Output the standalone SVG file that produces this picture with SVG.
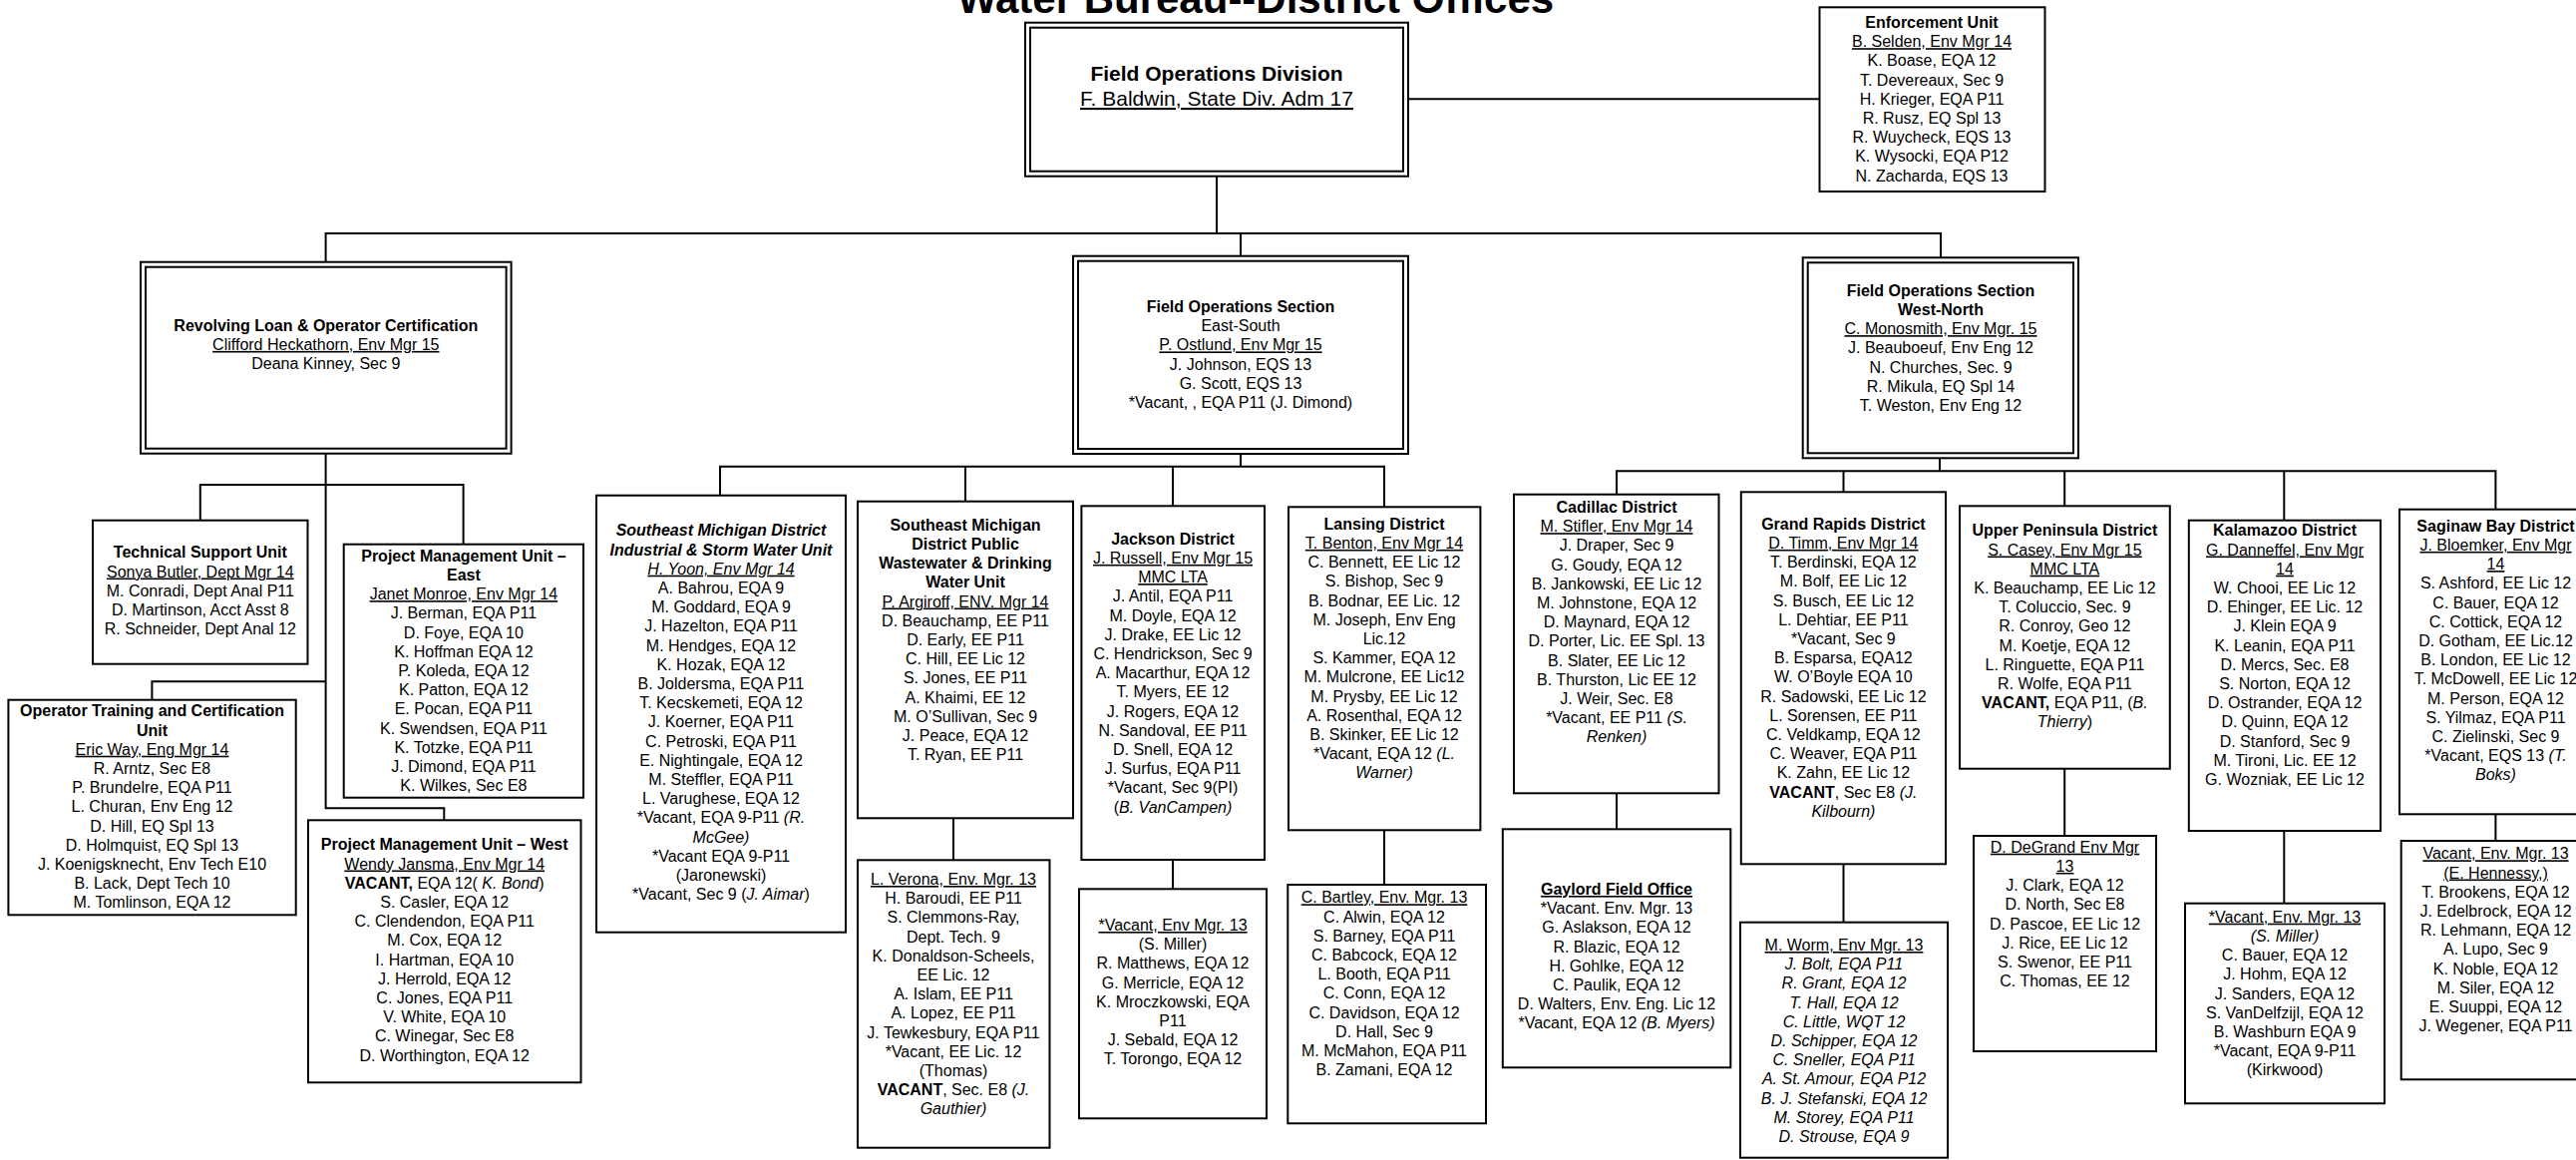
<svg xmlns="http://www.w3.org/2000/svg" width="2583" height="1163" viewBox="0 0 2583 1163">
<style>
.t{font-family:"Liberation Sans",Arial,sans-serif;font-size:16px;text-anchor:middle;fill:#000}
.b{font-weight:bold}
.i{font-style:italic}
.u{text-decoration:underline}
.box{fill:#fff;stroke:#000;stroke-width:2}
.con{fill:none;stroke:#000;stroke-width:2}
</style>
<rect x="0" y="0" width="2583" height="1163" fill="#fff"/>
<text class="t b" x="1259" y="13" style="font-size:42px">Water Bureau--District Offices</text>

<g id="connectors">
<path class="con" d="M1412 99.3H1825"/>
<path class="con" d="M1220 177V234"/>
<path class="con" d="M326.6 263V234H1946V258"/>
<path class="con" d="M1244 234V257"/>
<path class="con" d="M326.6 455V810.3H445.3V822.3"/>
<path class="con" d="M200.8 521.7V486H464.6V545.7"/>
<path class="con" d="M326.6 683.3H152.4V701.7"/>
<path class="con" d="M1244 455V467.7"/>
<path class="con" d="M722 496.7V467.7H1388V508.3"/>
<path class="con" d="M968 467.7V502.7"/>
<path class="con" d="M1176 467.7V507.3"/>
<path class="con" d="M956 801V862.3"/>
<path class="con" d="M1176 862V891.3"/>
<path class="con" d="M1388 832.3V887"/>
<path class="con" d="M1945 459.3V472.3"/>
<path class="con" d="M1621 495.7V472.3H2502.4V510.7"/>
<path class="con" d="M1848.5 472.3V493.3"/>
<path class="con" d="M2070.2 472.3V507.3"/>
<path class="con" d="M2290.3 472.3V521.7"/>
<path class="con" d="M1621 795.3V831.3"/>
<path class="con" d="M1848.5 866.3V924.7"/>
<path class="con" d="M2070.2 770.7V838"/>
<path class="con" d="M2290.3 833V905.7"/>
<path class="con" d="M2502.4 816.3V843"/>
</g>

<g id="fod">
<rect class="box" x="1028" y="22.7" width="384" height="154"/>
<rect class="box" x="1033" y="27.7" width="374" height="144"/>
<text class="t b" x="1220" y="81" style="font-size:21px">Field Operations Division</text>
<text class="t u" x="1220" y="106" style="font-size:21px">F. Baldwin, State Div. Adm 17</text>
</g>

<g id="enforcement">
<rect class="box" x="1824.5" y="7.3" width="226" height="184.7"/>
<text class="t" y="28"><tspan x="1937" class="b">Enforcement Unit</tspan><tspan x="1937" dy="19.2" class="u">B. Selden, Env Mgr 14</tspan><tspan x="1937" dy="19.2">K. Boase, EQA 12</tspan><tspan x="1937" dy="19.2">T. Devereaux, Sec 9</tspan><tspan x="1937" dy="19.2">H. Krieger, EQA P11</tspan><tspan x="1937" dy="19.2">R. Rusz, EQ Spl 13</tspan><tspan x="1937" dy="19.2">R. Wuycheck, EQS 13</tspan><tspan x="1937" dy="19.2">K. Wysocki, EQA P12</tspan><tspan x="1937" dy="19.2">N. Zacharda, EQS 13</tspan></text>
</g>

<g id="rloc">
<rect class="box" x="141" y="262.7" width="371.6" height="192"/>
<rect class="box" x="146" y="267.7" width="361.6" height="182"/>
<text class="t" y="331.7"><tspan x="326.8" class="b">Revolving Loan &amp; Operator Certification</tspan><tspan x="326.8" dy="19.2" class="u">Clifford Heckathorn, Env Mgr 15</tspan><tspan x="326.8" dy="19.2">Deana Kinney, Sec 9</tspan></text>
</g>

<g id="fos-es">
<rect class="box" x="1076" y="256.7" width="336" height="198.3"/>
<rect class="box" x="1081" y="261.7" width="326" height="188.3"/>
<text class="t" y="313"><tspan x="1244" class="b">Field Operations Section</tspan><tspan x="1244" dy="19.2">East-South</tspan><tspan x="1244" dy="19.2" class="u">P. Ostlund, Env Mgr 15</tspan><tspan x="1244" dy="19.2">J. Johnson, EQS 13</tspan><tspan x="1244" dy="19.2">G. Scott, EQS 13</tspan><tspan x="1244" dy="19.2">*Vacant, , EQA P11 (J. Dimond)</tspan></text>
</g>

<g id="fos-wn">
<rect class="box" x="1807.7" y="258.3" width="276.3" height="201"/>
<rect class="box" x="1812.7" y="263.3" width="266.3" height="191"/>
<text class="t" y="296.7"><tspan x="1946" class="b">Field Operations Section</tspan><tspan x="1946" dy="19.2" class="b">West-North</tspan><tspan x="1946" dy="19.2" class="u">C. Monosmith, Env Mgr. 15</tspan><tspan x="1946" dy="19.2">J. Beauboeuf, Env Eng 12</tspan><tspan x="1946" dy="19.2">N. Churches, Sec. 9</tspan><tspan x="1946" dy="19.2">R. Mikula, EQ Spl 14</tspan><tspan x="1946" dy="19.2">T. Weston, Env Eng 12</tspan></text>
</g>

<g id="tech-support">
<rect class="box" x="93" y="521.7" width="215.5" height="144"/>
<text class="t" y="559.3"><tspan x="200.8" class="b">Technical Support Unit</tspan><tspan x="200.8" dy="19.2" class="u">Sonya Butler, Dept Mgr 14</tspan><tspan x="200.8" dy="19.2">M. Conradi, Dept Anal P11</tspan><tspan x="200.8" dy="19.2">D. Martinson, Acct Asst 8</tspan><tspan x="200.8" dy="19.2">R. Schneider, Dept Anal 12</tspan></text>
</g>

<g id="pm-east">
<rect class="box" x="344.7" y="545.7" width="240.3" height="254"/>
<text class="t" y="562.7"><tspan x="464.9" class="b">Project Management Unit –</tspan><tspan x="464.9" dy="19.2" class="b">East</tspan><tspan x="464.9" dy="19.2" class="u">Janet Monroe, Env Mgr 14</tspan><tspan x="464.9" dy="19.2">J. Berman, EQA P11</tspan><tspan x="464.9" dy="19.2">D. Foye, EQA 10</tspan><tspan x="464.9" dy="19.2">K. Hoffman EQA 12</tspan><tspan x="464.9" dy="19.2">P. Koleda, EQA 12</tspan><tspan x="464.9" dy="19.2">K. Patton, EQA 12</tspan><tspan x="464.9" dy="19.2">E. Pocan, EQA P11</tspan><tspan x="464.9" dy="19.2">K. Swendsen, EQA P11</tspan><tspan x="464.9" dy="19.2">K. Totzke, EQA P11</tspan><tspan x="464.9" dy="19.2">J. Dimond, EQA P11</tspan><tspan x="464.9" dy="19.2">K. Wilkes, Sec E8</tspan></text>
</g>

<g id="op-training">
<rect class="box" x="8.4" y="701.7" width="288.3" height="215.6"/>
<text class="t" y="718.3"><tspan x="152.5" class="b">Operator Training and Certification</tspan><tspan x="152.5" dy="19.2" class="b">Unit</tspan><tspan x="152.5" dy="19.2" class="u">Eric Way, Eng Mgr 14</tspan><tspan x="152.5" dy="19.2">R. Arntz, Sec E8</tspan><tspan x="152.5" dy="19.2">P. Brundelre, EQA P11</tspan><tspan x="152.5" dy="19.2">L. Churan, Env Eng 12</tspan><tspan x="152.5" dy="19.2">D. Hill, EQ Spl 13</tspan><tspan x="152.5" dy="19.2">D. Holmquist, EQ Spl 13</tspan><tspan x="152.5" dy="19.2">J. Koenigsknecht, Env Tech E10</tspan><tspan x="152.5" dy="19.2">B. Lack, Dept Tech 10</tspan><tspan x="152.5" dy="19.2">M. Tomlinson, EQA 12</tspan></text>
</g>

<g id="pm-west">
<rect class="box" x="309" y="822.3" width="273.5" height="263"/>
<text class="t" y="852.3"><tspan x="445.7" class="b">Project Management Unit – West</tspan><tspan x="445.7" dy="19.2" class="u">Wendy Jansma, Env Mgr 14</tspan><tspan x="445.7" dy="19.2"><tspan class="b">VACANT,</tspan> EQA 12( <tspan class="i">K. Bond</tspan>)</tspan><tspan x="445.7" dy="19.2">S. Casler, EQA 12</tspan><tspan x="445.7" dy="19.2">C. Clendendon, EQA P11</tspan><tspan x="445.7" dy="19.2">M. Cox, EQA 12</tspan><tspan x="445.7" dy="19.2">I. Hartman, EQA 10</tspan><tspan x="445.7" dy="19.2">J. Herrold, EQA 12</tspan><tspan x="445.7" dy="19.2">C. Jones, EQA P11</tspan><tspan x="445.7" dy="19.2">V. White, EQA 10</tspan><tspan x="445.7" dy="19.2">C. Winegar, Sec E8</tspan><tspan x="445.7" dy="19.2">D. Worthington, EQA 12</tspan></text>
</g>

<g id="se-industrial">
<rect class="box" x="598" y="496.7" width="250" height="438"/>
<text class="t" y="537.3"><tspan x="723" class="b i">Southeast Michigan District</tspan><tspan x="723" dy="19.2" class="b i">Industrial &amp; Storm Water Unit</tspan><tspan x="723" dy="19.2" class="i u">H. Yoon, Env Mgr 14</tspan><tspan x="723" dy="19.2">A. Bahrou, EQA 9</tspan><tspan x="723" dy="19.2">M. Goddard, EQA 9</tspan><tspan x="723" dy="19.2">J. Hazelton, EQA P11</tspan><tspan x="723" dy="19.2">M. Hendges, EQA 12</tspan><tspan x="723" dy="19.2">K. Hozak, EQA 12</tspan><tspan x="723" dy="19.2">B. Joldersma, EQA P11</tspan><tspan x="723" dy="19.2">T. Kecskemeti, EQA 12</tspan><tspan x="723" dy="19.2">J. Koerner, EQA P11</tspan><tspan x="723" dy="19.2">C. Petroski, EQA P11</tspan><tspan x="723" dy="19.2">E. Nightingale, EQA 12</tspan><tspan x="723" dy="19.2">M. Steffler, EQA P11</tspan><tspan x="723" dy="19.2">L. Varughese, EQA 12</tspan><tspan x="723" dy="19.2">*Vacant, EQA 9-P11 <tspan class="i">(R.</tspan></tspan><tspan x="723" dy="19.2" class="i">McGee)</tspan><tspan x="723" dy="19.2">*Vacant EQA 9-P11</tspan><tspan x="723" dy="19.2">(Jaronewski)</tspan><tspan x="723" dy="19.2">*Vacant,  Sec 9 (<tspan class="i">J. Aimar</tspan>)</tspan></text>
</g>

<g id="se-public">
<rect class="box" x="860" y="502.7" width="216" height="317.6"/>
<text class="t" y="531.7"><tspan x="968" class="b">Southeast Michigan</tspan><tspan x="968" dy="19.2" class="b">District Public</tspan><tspan x="968" dy="19.2" class="b">Wastewater &amp; Drinking</tspan><tspan x="968" dy="19.2" class="b">Water Unit</tspan><tspan x="968" dy="19.2" class="u">P. Argiroff, ENV. Mgr 14</tspan><tspan x="968" dy="19.2">D. Beauchamp, EE P11</tspan><tspan x="968" dy="19.2">D. Early, EE P11</tspan><tspan x="968" dy="19.2">C. Hill, EE Lic 12</tspan><tspan x="968" dy="19.2">S. Jones, EE P11</tspan><tspan x="968" dy="19.2">A. Khaimi, EE 12</tspan><tspan x="968" dy="19.2">M. O’Sullivan, Sec 9</tspan><tspan x="968" dy="19.2">J. Peace, EQA 12</tspan><tspan x="968" dy="19.2">T. Ryan, EE P11</tspan></text>
</g>

<g id="verona">
<rect class="box" x="860" y="862.3" width="192.5" height="288.4"/>
<text class="t" y="887"><tspan x="956" class="u">L. Verona, Env. Mgr. 13</tspan><tspan x="956" dy="19.2">H. Baroudi, EE P11</tspan><tspan x="956" dy="19.2">S. Clemmons-Ray,</tspan><tspan x="956" dy="19.2">Dept. Tech. 9</tspan><tspan x="956" dy="19.2">K. Donaldson-Scheels,</tspan><tspan x="956" dy="19.2">EE Lic. 12</tspan><tspan x="956" dy="19.2">A. Islam, EE P11</tspan><tspan x="956" dy="19.2">A. Lopez, EE P11</tspan><tspan x="956" dy="19.2">J. Tewkesbury, EQA P11</tspan><tspan x="956" dy="19.2">*Vacant, EE Lic. 12</tspan><tspan x="956" dy="19.2">(Thomas)</tspan><tspan x="956" dy="19.2"><tspan class="b">VACANT</tspan>, Sec. E8 <tspan class="i">(J.</tspan></tspan><tspan x="956" dy="19.2" class="i">Gauthier)</tspan></text>
</g>

<g id="jackson">
<rect class="box" x="1084.4" y="507.3" width="183.6" height="354.7"/>
<text class="t" y="545.7"><tspan x="1176" class="b">Jackson District</tspan><tspan x="1176" dy="19.2" class="u">J. Russell, Env Mgr 15</tspan><tspan x="1176" dy="19.2" class="u">MMC LTA</tspan><tspan x="1176" dy="19.2">J. Antil, EQA P11</tspan><tspan x="1176" dy="19.2">M. Doyle, EQA 12</tspan><tspan x="1176" dy="19.2">J. Drake, EE Lic 12</tspan><tspan x="1176" dy="19.2">C. Hendrickson, Sec 9</tspan><tspan x="1176" dy="19.2">A. Macarthur, EQA 12</tspan><tspan x="1176" dy="19.2">T. Myers, EE 12</tspan><tspan x="1176" dy="19.2">J. Rogers, EQA 12</tspan><tspan x="1176" dy="19.2">N. Sandoval, EE P11</tspan><tspan x="1176" dy="19.2">D. Snell, EQA 12</tspan><tspan x="1176" dy="19.2">J. Surfus, EQA P11</tspan><tspan x="1176" dy="19.2">*Vacant, Sec 9(PI)</tspan><tspan x="1176" dy="19.2">(<tspan class="i">B. VanCampen)</tspan></tspan></text>
</g>

<g id="jackson-vacant">
<rect class="box" x="1082" y="891.3" width="188" height="230"/>
<text class="t" y="933"><tspan x="1176" class="u">*Vacant, Env Mgr. 13</tspan><tspan x="1176" dy="19.2">(S. Miller)</tspan><tspan x="1176" dy="19.2">R. Matthews, EQA 12</tspan><tspan x="1176" dy="19.2">G. Merricle, EQA 12</tspan><tspan x="1176" dy="19.2">K. Mroczkowski, EQA</tspan><tspan x="1176" dy="19.2">P11</tspan><tspan x="1176" dy="19.2">J. Sebald, EQA 12</tspan><tspan x="1176" dy="19.2">T. Torongo, EQA 12</tspan></text>
</g>

<g id="lansing">
<rect class="box" x="1292" y="508.3" width="192.4" height="324"/>
<text class="t" y="530.7"><tspan x="1388" class="b">Lansing District</tspan><tspan x="1388" dy="19.2" class="u">T. Benton, Env Mgr 14</tspan><tspan x="1388" dy="19.2">C. Bennett, EE Lic 12</tspan><tspan x="1388" dy="19.2">S. Bishop, Sec 9</tspan><tspan x="1388" dy="19.2">B. Bodnar, EE Lic. 12</tspan><tspan x="1388" dy="19.2">M. Joseph,  Env Eng</tspan><tspan x="1388" dy="19.2">Lic.12</tspan><tspan x="1388" dy="19.2">S. Kammer, EQA 12</tspan><tspan x="1388" dy="19.2">M. Mulcrone, EE Lic12</tspan><tspan x="1388" dy="19.2">M. Prysby, EE Lic 12</tspan><tspan x="1388" dy="19.2">A. Rosenthal, EQA 12</tspan><tspan x="1388" dy="19.2">B. Skinker, EE Lic 12</tspan><tspan x="1388" dy="19.2">*Vacant, EQA 12 <tspan class="i">(L.</tspan></tspan><tspan x="1388" dy="19.2" class="i">Warner)</tspan></text>
</g>

<g id="bartley">
<rect class="box" x="1291.3" y="887" width="198.7" height="239.3"/>
<text class="t" y="905.3"><tspan x="1388" class="u">C. Bartley, Env. Mgr. 13</tspan><tspan x="1388" dy="19.2">C. Alwin, EQA 12</tspan><tspan x="1388" dy="19.2">S. Barney, EQA P11</tspan><tspan x="1388" dy="19.2">C. Babcock, EQA 12</tspan><tspan x="1388" dy="19.2">L. Booth, EQA P11</tspan><tspan x="1388" dy="19.2">C. Conn, EQA 12</tspan><tspan x="1388" dy="19.2">C. Davidson, EQA 12</tspan><tspan x="1388" dy="19.2">D. Hall, Sec 9</tspan><tspan x="1388" dy="19.2">M. McMahon, EQA P11</tspan><tspan x="1388" dy="19.2">B. Zamani, EQA 12</tspan></text>
</g>

<g id="cadillac">
<rect class="box" x="1518" y="495.7" width="205.5" height="299.6"/>
<text class="t" y="514"><tspan x="1621" class="b">Cadillac District</tspan><tspan x="1621" dy="19.2" class="u">M. Stifler, Env Mgr 14</tspan><tspan x="1621" dy="19.2">J. Draper, Sec 9</tspan><tspan x="1621" dy="19.2">G. Goudy, EQA 12</tspan><tspan x="1621" dy="19.2">B. Jankowski, EE Lic 12</tspan><tspan x="1621" dy="19.2">M. Johnstone, EQA 12</tspan><tspan x="1621" dy="19.2">D. Maynard, EQA 12</tspan><tspan x="1621" dy="19.2">D. Porter, Lic. EE Spl. 13</tspan><tspan x="1621" dy="19.2">B. Slater, EE Lic 12</tspan><tspan x="1621" dy="19.2">B. Thurston, Lic EE 12</tspan><tspan x="1621" dy="19.2">J. Weir, Sec. E8</tspan><tspan x="1621" dy="19.2">*Vacant, EE P11 <tspan class="i">(S.</tspan></tspan><tspan x="1621" dy="19.2" class="i">Renken)</tspan></text>
</g>

<g id="gaylord">
<rect class="box" x="1506.8" y="831.3" width="228.5" height="239"/>
<text class="t" y="897"><tspan x="1621" class="b u">Gaylord Field Office</tspan><tspan x="1621" dy="19.2">*Vacant. Env. Mgr. 13</tspan><tspan x="1621" dy="19.2">G. Aslakson, EQA 12</tspan><tspan x="1621" dy="19.2">R. Blazic, EQA 12</tspan><tspan x="1621" dy="19.2">H. Gohlke, EQA 12</tspan><tspan x="1621" dy="19.2">C. Paulik, EQA 12</tspan><tspan x="1621" dy="19.2">D. Walters, Env. Eng. Lic 12</tspan><tspan x="1621" dy="19.2">*Vacant, EQA 12 <tspan class="i">(B. Myers)</tspan></tspan></text>
</g>

<g id="grand-rapids">
<rect class="box" x="1745.8" y="493.3" width="205.2" height="373"/>
<text class="t" y="530.7"><tspan x="1848.4" class="b">Grand Rapids District</tspan><tspan x="1848.4" dy="19.2" class="u">D. Timm, Env Mgr 14</tspan><tspan x="1848.4" dy="19.2">T. Berdinski, EQA 12</tspan><tspan x="1848.4" dy="19.2">M. Bolf, EE Lic 12</tspan><tspan x="1848.4" dy="19.2">S. Busch, EE Lic 12</tspan><tspan x="1848.4" dy="19.2">L. Dehtiar, EE P11</tspan><tspan x="1848.4" dy="19.2">*Vacant,  Sec 9</tspan><tspan x="1848.4" dy="19.2">B. Esparsa, EQA12</tspan><tspan x="1848.4" dy="19.2">W. O’Boyle EQA 10</tspan><tspan x="1848.4" dy="19.2">R. Sadowski, EE Lic 12</tspan><tspan x="1848.4" dy="19.2">L. Sorensen, EE P11</tspan><tspan x="1848.4" dy="19.2">C. Veldkamp, EQA 12</tspan><tspan x="1848.4" dy="19.2">C. Weaver, EQA P11</tspan><tspan x="1848.4" dy="19.2">K. Zahn, EE Lic 12</tspan><tspan x="1848.4" dy="19.2"><tspan class="b">VACANT</tspan>, Sec E8 <tspan class="i">(J.</tspan></tspan><tspan x="1848.4" dy="19.2" class="i">Kilbourn)</tspan></text>
</g>

<g id="worm">
<rect class="box" x="1745" y="924.7" width="208" height="236"/>
<text class="t" y="953"><tspan x="1849" class="u">M. Worm, Env Mgr. 13</tspan><tspan x="1849" dy="19.2" class="i">J. Bolt, EQA P11</tspan><tspan x="1849" dy="19.2" class="i">R. Grant, EQA 12</tspan><tspan x="1849" dy="19.2" class="i">T. Hall, EQA 12</tspan><tspan x="1849" dy="19.2" class="i">C. Little, WQT 12</tspan><tspan x="1849" dy="19.2" class="i">D. Schipper, EQA 12</tspan><tspan x="1849" dy="19.2" class="i">C. Sneller, EQA P11</tspan><tspan x="1849" dy="19.2" class="i">A. St. Amour, EQA P12</tspan><tspan x="1849" dy="19.2" class="i">B. J. Stefanski, EQA 12</tspan><tspan x="1849" dy="19.2" class="i">M. Storey, EQA P11</tspan><tspan x="1849" dy="19.2" class="i">D. Strouse, EQA 9</tspan></text>
</g>

<g id="upper-peninsula">
<rect class="box" x="1965" y="507.3" width="210.8" height="263.4"/>
<text class="t" y="537.3"><tspan x="2070.4" class="b">Upper Peninsula District</tspan><tspan x="2070.4" dy="19.2" class="u">S. Casey, Env Mgr 15</tspan><tspan x="2070.4" dy="19.2" class="u">MMC LTA</tspan><tspan x="2070.4" dy="19.2">K. Beauchamp, EE Lic 12</tspan><tspan x="2070.4" dy="19.2">T. Coluccio, Sec. 9</tspan><tspan x="2070.4" dy="19.2">R. Conroy, Geo 12</tspan><tspan x="2070.4" dy="19.2">M. Koetje, EQA 12</tspan><tspan x="2070.4" dy="19.2">L. Ringuette, EQA P11</tspan><tspan x="2070.4" dy="19.2">R. Wolfe, EQA P11</tspan><tspan x="2070.4" dy="19.2"><tspan class="b">VACANT,</tspan> EQA P11, (<tspan class="i">B.</tspan></tspan><tspan x="2070.4" dy="19.2"><tspan class="i">Thierry</tspan>)</tspan></text>
</g>

<g id="degrand">
<rect class="box" x="1979" y="838" width="183" height="216"/>
<text class="t" y="854.7"><tspan x="2070.5" class="u">D. DeGrand Env Mgr</tspan><tspan x="2070.5" dy="19.2" class="u">13</tspan><tspan x="2070.5" dy="19.2">J. Clark, EQA 12</tspan><tspan x="2070.5" dy="19.2">D. North, Sec E8</tspan><tspan x="2070.5" dy="19.2">D. Pascoe, EE Lic 12</tspan><tspan x="2070.5" dy="19.2">J. Rice, EE Lic 12</tspan><tspan x="2070.5" dy="19.2">S. Swenor, EE  P11</tspan><tspan x="2070.5" dy="19.2">C. Thomas, EE 12</tspan></text>
</g>

<g id="kalamazoo">
<rect class="box" x="2194.8" y="521.7" width="192.2" height="311.3"/>
<text class="t" y="537.3"><tspan x="2291" class="b">Kalamazoo District</tspan><tspan x="2291" dy="19.2" class="u">G. Danneffel, Env Mgr</tspan><tspan x="2291" dy="19.2" class="u">14</tspan><tspan x="2291" dy="19.2">W. Chooi, EE Lic 12</tspan><tspan x="2291" dy="19.2">D. Ehinger, EE Lic. 12</tspan><tspan x="2291" dy="19.2">J. Klein  EQA 9</tspan><tspan x="2291" dy="19.2">K. Leanin, EQA P11</tspan><tspan x="2291" dy="19.2">D. Mercs, Sec. E8</tspan><tspan x="2291" dy="19.2">S. Norton, EQA 12</tspan><tspan x="2291" dy="19.2">D. Ostrander, EQA 12</tspan><tspan x="2291" dy="19.2">D. Quinn, EQA 12</tspan><tspan x="2291" dy="19.2">D. Stanford, Sec 9</tspan><tspan x="2291" dy="19.2">M. Tironi, Lic. EE 12</tspan><tspan x="2291" dy="19.2">G. Wozniak, EE Lic 12</tspan></text>
</g>

<g id="kalamazoo-vacant">
<rect class="box" x="2191" y="905.7" width="200" height="200.6"/>
<text class="t" y="924.7"><tspan x="2291" class="u">*Vacant, Env. Mgr. 13</tspan><tspan x="2291" dy="19.2" class="i">(S. Miller)</tspan><tspan x="2291" dy="19.2">C. Bauer, EQA 12</tspan><tspan x="2291" dy="19.2">J. Hohm, EQA 12</tspan><tspan x="2291" dy="19.2">J. Sanders, EQA 12</tspan><tspan x="2291" dy="19.2">S. VanDelfzijl, EQA 12</tspan><tspan x="2291" dy="19.2">B. Washburn EQA 9</tspan><tspan x="2291" dy="19.2">*Vacant, EQA 9-P11</tspan><tspan x="2291" dy="19.2">(Kirkwood)</tspan></text>
</g>

<g id="saginaw">
<rect class="box" x="2406" y="510.7" width="200" height="305.6"/>
<text class="t" y="532.7"><tspan x="2502.5" class="b">Saginaw Bay District</tspan><tspan x="2502.5" dy="19.2" class="u">J. Bloemker, Env Mgr</tspan><tspan x="2502.5" dy="19.2" class="u">14</tspan><tspan x="2502.5" dy="19.2">S. Ashford, EE Lic 12</tspan><tspan x="2502.5" dy="19.2">C. Bauer, EQA 12</tspan><tspan x="2502.5" dy="19.2">C. Cottick, EQA 12</tspan><tspan x="2502.5" dy="19.2">D. Gotham, EE Lic.12</tspan><tspan x="2502.5" dy="19.2">B. London, EE Lic 12</tspan><tspan x="2502.5" dy="19.2">T. McDowell, EE Lic 12</tspan><tspan x="2502.5" dy="19.2">M. Person, EQA 12</tspan><tspan x="2502.5" dy="19.2">S. Yilmaz, EQA P11</tspan><tspan x="2502.5" dy="19.2">C. Zielinski, Sec 9</tspan><tspan x="2502.5" dy="19.2">*Vacant, EQS 13 <tspan class="i">(T.</tspan></tspan><tspan x="2502.5" dy="19.2" class="i">Boks)</tspan></text>
</g>

<g id="hennessy">
<rect class="box" x="2407.7" y="843" width="200" height="239.3"/>
<text class="t" y="861.3"><tspan x="2502.5" class="u">Vacant, Env. Mgr. 13</tspan><tspan x="2502.5" dy="19.2" class="u">(E. Hennessy,)</tspan><tspan x="2502.5" dy="19.2">T. Brookens, EQA 12</tspan><tspan x="2502.5" dy="19.2">J. Edelbrock, EQA 12</tspan><tspan x="2502.5" dy="19.2">R. Lehmann, EQA 12</tspan><tspan x="2502.5" dy="19.2">A. Lupo, Sec 9</tspan><tspan x="2502.5" dy="19.2">K. Noble, EQA 12</tspan><tspan x="2502.5" dy="19.2">M. Siler, EQA 12</tspan><tspan x="2502.5" dy="19.2">E. Suuppi, EQA 12</tspan><tspan x="2502.5" dy="19.2">J. Wegener, EQA P11</tspan></text>
</g>
</svg>
